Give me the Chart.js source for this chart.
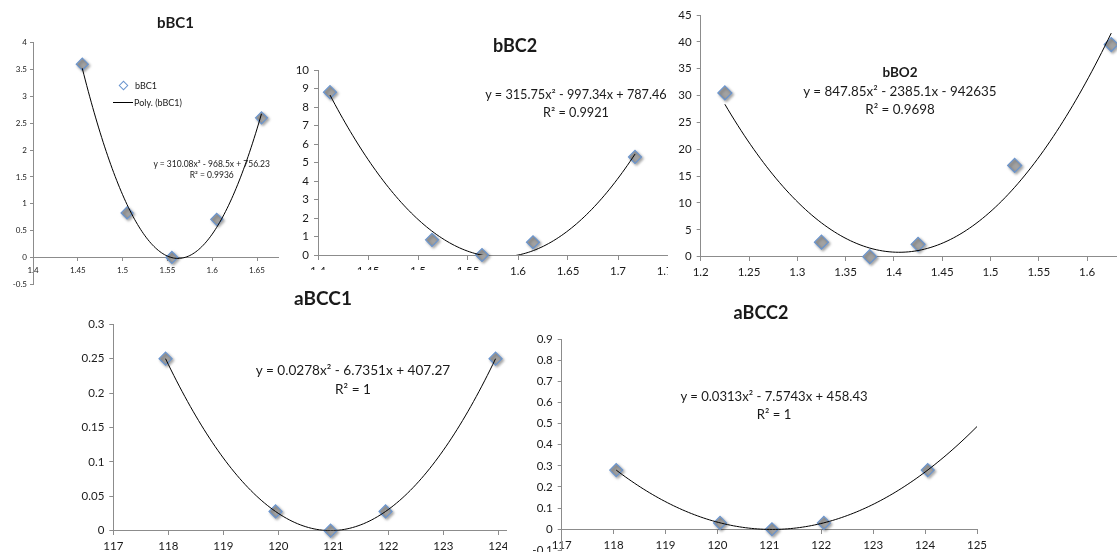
<!DOCTYPE html>
<html><head><meta charset="utf-8">
<script src="https://cdn.jsdelivr.net/npm/chart.js@4.4.0/dist/chart.umd.min.js"></script>
<style>
html,body{margin:0;padding:0;background:#fff;}
body{width:1117px;height:552px;overflow:hidden;position:relative;font-family:Lato,"Liberation Sans",sans-serif;color:#1a1a1a;}
.panel{position:absolute;overflow:hidden;background:#fff;}
.panel canvas{position:absolute;}
.t{position:absolute;white-space:nowrap;transform:translate(-50%,-50%);line-height:1;}
.tl{position:absolute;white-space:nowrap;transform:translate(0,-50%);line-height:1;}
</style></head><body>
<script>
// ---------- data ----------
const bBC1_x = [1.455, 1.505, 1.555, 1.605, 1.655];
const bBC1_y = [3.6, 0.83, 0, 0.71, 2.6];
const bBC2_x = [1.412, 1.514, 1.564, 1.615, 1.717];
const bBC2_y = [8.8, 0.82, 0, 0.69, 5.3];
const bBO2_x = [1.225, 1.325, 1.375, 1.425, 1.525, 1.625];
const bBO2_y = [30.5, 2.7, 0, 2.3, 17, 39.5];
const aBCC1_x = [117.95, 119.95, 120.95, 121.95, 123.95];
const aBCC1_y = [0.25, 0.028, 0, 0.028, 0.25];
const aBCC2_x = [118.05, 120.05, 121.05, 122.05, 124.05];
const aBCC2_y = [0.28, 0.03, 0, 0.03, 0.28];

// axis ranges [min, max, step]
const bBC1_xTicks = [1.4, 1.7, 0.05];
const bBC1_yTicks = [-0.5, 4, 0.5];
const bBC2_xTicks = [1.4, 1.75, 0.05];
const bBC2_yTicks = [0, 10, 1];
const bBO2_xTicks = [1.2, 1.7, 0.05];
const bBO2_yTicks = [0, 45, 5];
const aBCC1_xTicks = [117, 125, 1];
const aBCC1_yTicks = [0, 0.3, 0.05];
const aBCC2_xTicks = [117, 125, 1];
const aBCC2_yTicks = [-0.1, 0.9, 0.1];

// texts
const titles = ["bBC1", "bBC2", "bBO2", "aBCC1", "aBCC2"];
const equations = [
  ["y = 310.08x\u00B2 - 968.5x + 756.23", "R\u00B2 = 0.9936"],
  ["y = 315.75x\u00B2 - 997.34x + 787.46", "R\u00B2 = 0.9921"],
  ["y = 847.85x\u00B2 - 2385.1x - 942635", "R\u00B2 = 0.9698"],
  ["y = 0.0278x\u00B2 - 6.7351x + 407.27", "R\u00B2 = 1"],
  ["y = 0.0313x\u00B2 - 7.5743x + 458.43", "R\u00B2 = 1"]
];
const legendLabels = ["bBC1", "Poly. (bBC1)"];

// ---------- quadratic least-squares trendline (as in the spreadsheet) ----------
function quadFit(xs, ys) {
  const n = xs.length, m = xs.reduce((a, b) => a + b, 0) / n;
  let s1=0,s2=0,s3=0,s4=0,t0=0,t1=0,t2=0;
  for (let i = 0; i < n; i++) {
    const u = xs[i] - m, y = ys[i];
    s1 += u; s2 += u*u; s3 += u*u*u; s4 += u*u*u*u;
    t0 += y; t1 += u*y; t2 += u*u*y;
  }
  const A = [[n,s1,s2],[s1,s2,s3],[s2,s3,s4]], B = [t0,t1,t2];
  const det = M => M[0][0]*(M[1][1]*M[2][2]-M[1][2]*M[2][1]) - M[0][1]*(M[1][0]*M[2][2]-M[1][2]*M[2][0]) + M[0][2]*(M[1][0]*M[2][1]-M[1][1]*M[2][0]);
  const D = det(A);
  const c = [0,1,2].map(k => det(A.map((row, r) => row.map((v, j) => j === k ? B[r] : v))) / D);
  return x => { const u = x - m; return c[0] + c[1]*u + c[2]*u*u; };
}
function trend(xs, ys, x0, x1) {
  const f = quadFit(xs, ys), pts = [], N = 120;
  for (let i = 0; i <= N; i++) { const x = x0 + (x1 - x0) * i / N; pts.push({x, y: f(x)}); }
  return pts;
}

const fmt = v => String(+(+v).toFixed(4));

// ---------- layout / style of the five panels (drawn in z order) ----------
const panels = [
  { n:1, xs:bBC2_x, ys:bBC2_y, xt:bBC2_xTicks, yt:bBC2_yTicks, tEnd:null,
    clip:[279,30,389,255], canvas:[279,30,420,262], plot:[318,70,668,255],
    font:11.5, tl:4, xPad:5, yPad:5, r:6.5,
    title:[515,45,18], eq:[576,94,12.7,18] },
  { n:2, xs:bBO2_x, ys:bBO2_y, xt:bBO2_xTicks, yt:bBO2_yTicks, tEnd:null,
    clip:[668,0,449,285], canvas:[668,0,530,290], plot:[700.7,15,1183.7,256.7],
    font:11.5, tl:4, xPad:5, yPad:5, r:7,
    title:[900,73,13.5], eq:[900,92,13.4,18] },
  { n:3, xs:aBCC1_x, ys:aBCC1_y, xt:aBCC1_xTicks, yt:aBCC1_yTicks, tEnd:null,
    clip:[60,270,447,282], canvas:[60,270,510,300], plot:[113.3,324.3,553.3,530.7],
    font:11.5, tl:4, xPad:5, yPad:5, r:6.5,
    title:[323,297,19], eq:[353,371,13.6,18.5] },
  { n:4, xs:aBCC2_x, ys:aBCC2_y, xt:aBCC2_xTicks, yt:aBCC2_yTicks, tEnd:125,
    clip:[507,282,610,270], canvas:[507,282,610,290], plot:[561.7,339,977,550.4],
    font:11.5, tl:4, xPad:5, yPad:5, r:6.5,
    title:[761,312,18], eq:[774,397,13.1,18] },
  { n:0, xs:bBC1_x, ys:bBC1_y, xt:bBC1_xTicks, yt:bBC1_yTicks, tEnd:null,
    clip:[0,0,279,292], canvas:[0,0,320,300], plot:[33,42.7,301.8,284.3],
    font:8, tl:3, xPad:5, yPad:3, r:6,
    title:[175.5,22,15], eq:[211.7,163.5,8.5,11.5] }
];

const AXIS = '#8c8c8c', TXT = '#1a1a1a';
const FAM = 'Lato, "Liberation Sans", sans-serif';

const markerShadow = {
  id: 'markerShadow',
  beforeDatasetDraw(chart, args) {
    if (args.index !== 1) return;
    const c = chart.ctx; c.save();
    c.shadowColor = 'rgba(0,0,0,0.35)'; c.shadowBlur = 3; c.shadowOffsetX = 1.5; c.shadowOffsetY = 1.5;
  },
  afterDatasetDraw(chart, args) { if (args.index === 1) chart.ctx.restore(); }
};

panels.forEach((p, z) => {
  const idx = p.n;
  const [cl, ct, cw, ch] = p.clip;
  const panel = document.createElement('div');
  panel.className = 'panel';
  Object.assign(panel.style, {left: cl+'px', top: ct+'px', width: cw+'px', height: ch+'px', zIndex: z+1});
  document.body.appendChild(panel);

  const [vl, vt, vw, vh] = p.canvas;
  const cv = document.createElement('canvas');
  cv.width = vw; cv.height = vh;
  Object.assign(cv.style, {left: (vl-cl)+'px', top: (vt-ct)+'px', width: vw+'px', height: vh+'px'});
  panel.appendChild(cv);

  const [pl, pt, pr, pb] = p.plot;
  const x0 = Math.min(...p.xs), x1 = p.tEnd != null ? p.tEnd : Math.max(...p.xs);

  new Chart(cv, {
    type: 'scatter',
    data: { datasets: [
      { label: 'Poly. (' + titles[idx] + ')', data: trend(p.xs, p.ys, x0, x1), showLine: true, borderColor: '#000', borderWidth: 1,
        pointRadius: 0, fill: false, tension: 0 },
      { label: titles[idx], data: p.xs.map((x, i) => ({x, y: p.ys[i]})), pointStyle: 'rectRot',
        pointRadius: p.r, pointBackgroundColor: '#a2a2a2', pointBorderColor: '#6a95cf', pointBorderWidth: 1.2, clip: false }
    ]},
    plugins: [markerShadow],
    options: {
      responsive: false, animation: false, events: [], devicePixelRatio: 1,
      layout: { padding: { left: 0, top: pt - vt, right: (vl + vw) - pr, bottom: (vt + vh) - pb } },
      plugins: { legend: { display: false }, title: { display: false }, tooltip: { enabled: false } },
      scales: {
        x: { type: 'linear', position: { y: 0 }, min: p.xt[0], max: p.xt[1],
             afterFit: s => { s.height = 0; },
             border: { display: true, color: AXIS, width: 1 },
             grid: { display: true, drawOnChartArea: false, drawTicks: true, tickLength: p.tl, color: AXIS },
             ticks: { stepSize: p.xt[2], autoSkip: false, maxRotation: 0, padding: p.xPad, color: TXT,
                      font: { family: FAM, size: p.font }, callback: fmt } },
        y: { type: 'linear', position: 'left', min: p.yt[0], max: p.yt[1],
             afterFit: s => { s.width = pl - vl; },
             border: { display: true, color: AXIS, width: 1 },
             grid: { display: true, drawOnChartArea: false, drawTicks: true, tickLength: p.tl, color: AXIS },
             ticks: { stepSize: p.yt[2], autoSkip: false, padding: p.yPad, color: TXT,
                      font: { family: FAM, size: p.font }, callback: fmt } }
      }
    }
  });

  const addText = (txt, x, y, size, bold, cls) => {
    const d = document.createElement('div');
    d.className = cls || 't';
    d.textContent = txt;
    Object.assign(d.style, {left: (x-cl)+'px', top: (y-ct)+'px', fontSize: size+'px', fontWeight: bold ? '700' : '400'});
    panel.appendChild(d);
    return d;
  };
  addText(titles[idx], p.title[0], p.title[1], p.title[2], true);
  addText(equations[idx][0], p.eq[0], p.eq[1], p.eq[2], false);
  addText(equations[idx][1], p.eq[0], p.eq[1] + p.eq[3], p.eq[2], false);

  if (idx === 0) {
    // legend inside the first chart
    const dm = document.createElement('div');
    Object.assign(dm.style, {position:'absolute', left:(123.3-3-cl)+'px', top:(85-3-ct)+'px', width:'5px', height:'5px',
      border:'1.2px solid #6a95cf', background:'#fff', transform:'rotate(45deg)'});
    panel.appendChild(dm);
    const ln = document.createElement('div');
    Object.assign(ln.style, {position:'absolute', left:(113-cl)+'px', top:(101.5-ct)+'px', width:'20px', height:'1px', background:'#000'});
    panel.appendChild(ln);
    addText(legendLabels[0], 135, 85, 9, false, 'tl');
    addText(legendLabels[1], 134, 102, 9, false, 'tl');
  }
});
</script>
</body></html>
